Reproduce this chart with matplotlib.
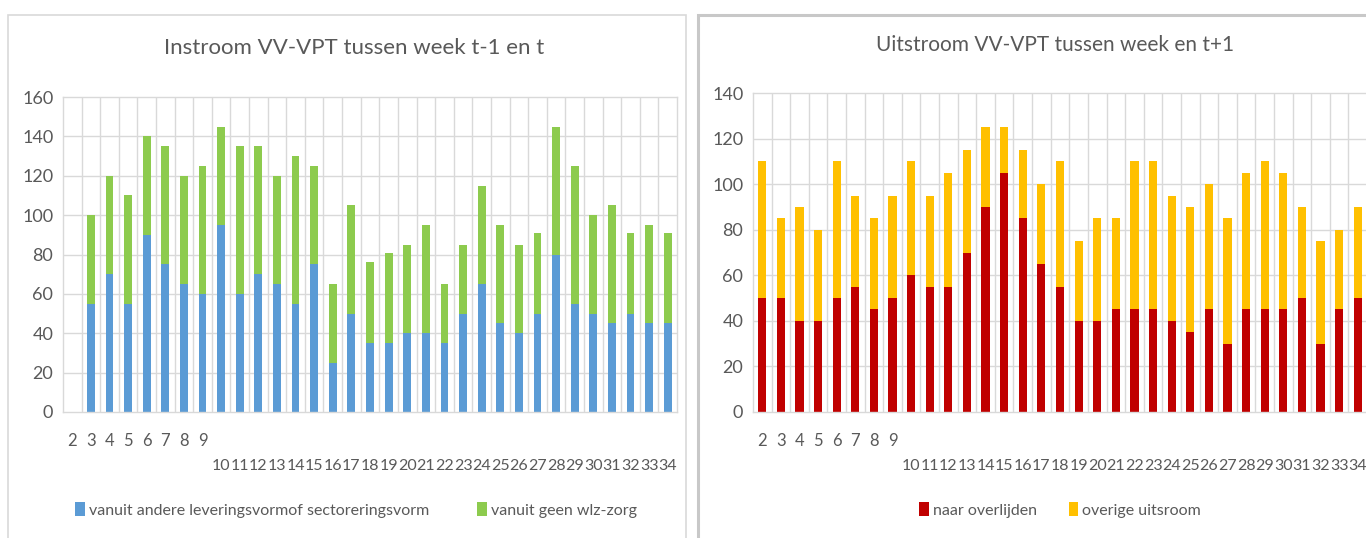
import matplotlib
matplotlib.use("Agg")
import matplotlib.pyplot as plt
from matplotlib.patches import Rectangle

weeks = [str(w) for w in range(2, 35)]

# Instroom
in_andere = [0, 55, 70, 55, 90, 75, 65, 60, 95, 60, 70, 65, 55, 75, 25, 50,
             35, 35, 40, 40, 35, 50, 65, 45, 40, 50, 80, 55, 50, 45, 50, 45, 45]
in_total = [0, 100, 120, 110, 140, 135, 120, 125, 145, 135, 135, 120, 130, 125, 65, 105,
            76, 81, 85, 95, 65, 85, 115, 95, 85, 91, 145, 125, 100, 105, 91, 95, 91]
in_geen = [t - a for t, a in zip(in_total, in_andere)]

# Uitstroom
uit_overl = [50, 50, 40, 40, 50, 55, 45, 50, 60, 55, 55, 70, 90, 105, 85, 65,
             55, 40, 40, 45, 45, 45, 40, 35, 45, 30, 45, 45, 45, 50, 30, 45, 50]
uit_total = [110, 85, 90, 80, 110, 95, 85, 95, 110, 95, 105, 115, 125, 125, 115, 100,
             110, 75, 85, 85, 110, 110, 95, 90, 100, 85, 105, 110, 105, 90, 75, 80, 90]
uit_overig = [t - a for t, a in zip(uit_total, uit_overl)]

FONT = ['Lato', 'DejaVu Sans']
plt.rcParams['font.family'] = FONT
TXT = '#595959'
GRID = '#D9D9D9'

W, H = 1366, 538
fig = plt.figure(figsize=(W / 100, H / 100), dpi=100)
fig.patch.set_facecolor('white')

def fx(px):
    return px / W

def fy(py):
    return 1 - py / H

# panel borders
fig.patches.append(Rectangle((fx(8), fy(560)), fx(686 - 8), (560 - 15) / H,
                             transform=fig.transFigure, fill=False, edgecolor='#D9D9D9', lw=1.2))
fig.patches.append(Rectangle((fx(698), fy(560)), fx(1380 - 698), (560 - 15) / H,
                             transform=fig.transFigure, fill=False, edgecolor='#C8C8C8', lw=2.2))

def make_ax(x0, x1, ytop, ybot):
    return fig.add_axes([fx(x0), fy(ybot), fx(x1 - x0), (ybot - ytop) / H])

def style(ax, ymax, step):
    n = len(weeks)
    ax.set_xlim(-0.5, n - 0.5)
    ax.set_ylim(0, ymax)
    ax.set_yticks(range(0, ymax + 1, step))
    for s in ax.spines.values():
        s.set_color(GRID)
        s.set_linewidth(1)
    for y in range(step, ymax, step):
        ax.axhline(y, color=GRID, lw=1, zorder=0)
    for i in range(n - 1):
        ax.axvline(i + 0.5, color=GRID, lw=1, zorder=0)
    pos = list(range(n))
    ax.set_xticks(pos[:8], weeks[:8])
    ax.set_xticks(pos[8:], weeks[8:], minor=True)
    ax.tick_params(axis='x', which='major', length=0, pad=15, labelsize=12, labelcolor=TXT)
    ax.tick_params(axis='x', which='minor', length=0, pad=34, labelsize=11.5, labelcolor=TXT)
    ax.tick_params(axis='y', length=0, pad=7, labelsize=13, labelcolor=TXT)

# Left chart
ax1 = make_ax(63, 677, 97, 412)
x = range(len(weeks))
b1 = ax1.bar(x, in_andere, width=0.42, color='#5B9BD5', zorder=2,
             label='vanuit andere leveringsvormof sectoreringsvorm')
b2 = ax1.bar(x, in_geen, width=0.42, bottom=in_andere, color='#8DCB4E', zorder=2,
             label='vanuit geen wlz-zorg')
style(ax1, 160, 20)
fig.text(fx(354), fy(48), 'Instroom VV-VPT tussen week t-1 en t', ha='center', va='center',
         fontsize=16, color=TXT)
fig.legend(handles=[b1, b2], loc='center', bbox_to_anchor=(fx(356), fy(510)), ncol=2,
           frameon=False, fontsize=11.5, labelcolor=TXT, handlelength=0.6, handleheight=0.9,
           handletextpad=0.25, columnspacing=3.0)

# Right chart
ax2 = make_ax(753, 1367, 93, 412)
c1 = ax2.bar(x, uit_overl, width=0.44, color='#C00000', zorder=2, label='naar overlijden')
c2 = ax2.bar(x, uit_overig, width=0.44, bottom=uit_overl, color='#FFC000', zorder=2,
             label='overige uitsroom')
style(ax2, 140, 20)
fig.text(fx(1055), fy(45), 'Uitstroom VV-VPT tussen week en t+1', ha='center', va='center',
         fontsize=15, color=TXT)
fig.legend(handles=[c1, c2], loc='center', bbox_to_anchor=(fx(1060), fy(510)), ncol=2,
           frameon=False, fontsize=11.5, labelcolor=TXT, handlelength=0.6, handleheight=0.9,
           handletextpad=0.25, columnspacing=2.0)

fig.savefig('out.png', dpi=100, facecolor='white')
